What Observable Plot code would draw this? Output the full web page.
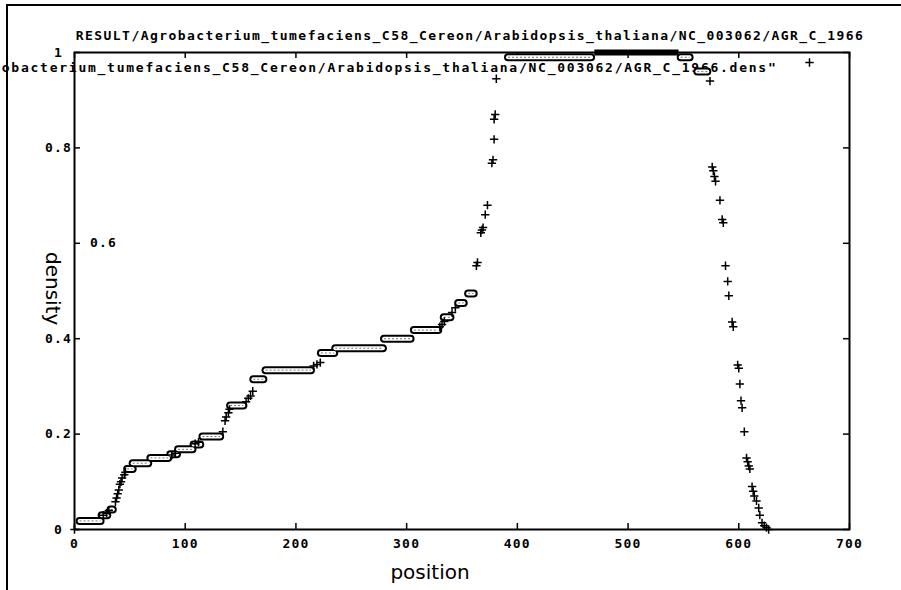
<!DOCTYPE html>
<html>
<head>
<meta charset="utf-8">
<script src="https://cdn.jsdelivr.net/npm/d3@7"></script>
<script src="https://cdn.jsdelivr.net/npm/@observablehq/plot@0.6"></script>
<style>
  html, body { margin: 0; padding: 0; background: white; overflow: hidden; }
  #wrap { position: relative; width: 901px; height: 590px; }
  #border { position: absolute; left: 6px; top: 4px; width: 895px; height: 586px;
            border-left: 2px solid black; border-top: 2px solid black; pointer-events: none; }
  g[aria-description="title"] text { letter-spacing: 1.45px; }
  g[aria-description="legend"] text { letter-spacing: 1.75px; }
  g[aria-description="tick-label"] text { letter-spacing: 1.2px; }
</style>
</head>
<body>
<div id="wrap"><div id="border"></div></div>
<script>
const titleText = "RESULT/Agrobacterium_tumefaciens_C58_Cereon/Arabidopsis_thaliana/NC_003062/AGR_C_1966";
const legendText = "\"" + titleText + ".dens\"";
const xLabel = "position";
const yLabel = "density";

const xTicks = [0, 100, 200, 300, 400, 500, 600, 700];
const yTicks = [0, 0.2, 0.4, 0.6, 0.8, 1];
const yTickLabels = ["0", "0.2", "0.4", "0.6", "0.8", "1"];

// horizontal runs of points (plateaus)
const stepX1 = [5, 25, 33, 48, 53, 69, 87, 94, 108, 116, 141, 162, 173, 223, 236, 280, 307, 334, 347, 356, 392, 548, 563];
const stepX2 = [24, 30, 35, 53, 67, 85, 93, 107, 114, 132, 153, 171, 214, 235, 279, 304, 329, 340, 352, 361, 467, 556, 572];
const stepY  = [0.018, 0.03, 0.042, 0.127, 0.139, 0.15, 0.158, 0.168, 0.178, 0.195, 0.26, 0.315, 0.334, 0.37, 0.38, 0.40, 0.418, 0.445, 0.475, 0.495, 0.99, 0.99, 0.96];

// dense run at full density
const peakX1 = [470];
const peakX2 = [546];
const peakY  = [1.0];

// isolated points
const pointX = [0, 26, 29, 31, 37, 38, 39, 40, 41, 42, 43, 45, 46, 88, 91, 109, 112, 134, 136, 137, 139, 140,
  155, 157, 159, 161, 216, 219, 222, 330, 332, 334, 341, 344, 363, 364, 367, 368, 369, 371, 373, 377, 378, 379,
  379, 380, 381, 574, 576, 577, 578, 579, 583, 585, 586, 588, 590, 591, 594, 595, 599, 600, 601, 602, 603, 605,
  607, 608, 609, 610, 612, 613, 614, 616, 618, 619, 621, 623, 625, 627];
const pointY = [0, 0.03, 0.034, 0.04, 0.058, 0.066, 0.075, 0.083, 0.095, 0.1, 0.108, 0.115, 0.12, 0.156, 0.16,
  0.18, 0.183, 0.205, 0.228, 0.236, 0.245, 0.252, 0.268, 0.275, 0.28, 0.29, 0.343, 0.346, 0.35, 0.425, 0.43,
  0.436, 0.455, 0.465, 0.553, 0.56, 0.622, 0.628, 0.633, 0.66, 0.68, 0.768, 0.775, 0.818, 0.86, 0.87, 0.945,
  0.94, 0.76, 0.752, 0.74, 0.73, 0.69, 0.65, 0.643, 0.553, 0.52, 0.49, 0.435, 0.425, 0.345, 0.338, 0.305, 0.27,
  0.255, 0.205, 0.15, 0.142, 0.133, 0.127, 0.09, 0.08, 0.07, 0.06, 0.045, 0.03, 0.014, 0.008, 0.004, 0];

const steps = stepX1.map((x1, i) => ({x1, x2: stepX2[i], y: stepY[i]}));
const peaks = peakX1.map((x1, i) => ({x1, x2: peakX2[i], y: peakY[i]}));
const points = pointX.map((x, i) => ({x, y: pointY[i]}));
const yt = yTicks.map((v, i) => ({v, label: yTickLabels[i]}));

const W = 901, H = 590, mL = 74, mR = 52, mT = 52, mB = 61;
const fw = W - mL - mR, fh = H - mT - mB;
const mono = {fontFamily: "DejaVu Sans Mono", fontWeight: "bold", fontSize: 13};

const chart = Plot.plot({
  width: W, height: H,
  marginLeft: mL, marginRight: mR, marginTop: mT, marginBottom: mB,
  style: {background: "white", color: "black", overflow: "hidden"},
  x: {domain: [0, 700], axis: null},
  y: {domain: [0, 1], axis: null},
  marks: [
    // inward ticks
    Plot.tickX(xTicks, {x: d => d, insetTop: fh - 6, stroke: "black", strokeWidth: 1.5}),
    Plot.tickX(xTicks, {x: d => d, insetBottom: fh - 6, stroke: "black", strokeWidth: 1.5}),
    Plot.tickY(yTicks, {y: d => d, insetRight: fw - 6, stroke: "black", strokeWidth: 1.5}),
    Plot.tickY(yTicks, {y: d => d, insetLeft: fw - 6, stroke: "black", strokeWidth: 1.5}),
    Plot.frame({stroke: "black", strokeWidth: 2}),
    // tick labels
    Plot.text(xTicks, {x: d => d, frameAnchor: "bottom", dy: 18, text: d => String(d), ...mono, ariaDescription: "tick-label"}),
    Plot.text(yt.filter(d => d.v !== 0.6), {y: "v", text: "label", frameAnchor: "left", dx: -16, textAnchor: "middle", ...mono, ariaDescription: "tick-label"}),
    Plot.text(yt.filter(d => d.v === 0.6), {y: "v", text: "label", frameAnchor: "left", dx: 29, textAnchor: "middle", ...mono, ariaDescription: "tick-label"}),
    // title, legend, axis labels
    Plot.text([titleText], {text: d => d, frameAnchor: "top", dx: 8, dy: -22, ...mono, ariaDescription: "title"}),
    Plot.text([legendText], {text: d => d, frameAnchor: "top-right", dx: -72, dy: 10, textAnchor: "end", ...mono, ariaDescription: "legend"}),
    Plot.dot([0], {frameAnchor: "top-right", dx: -40, dy: 10, symbol: "plus", r: 2.8, stroke: "black", strokeWidth: 1.5}),
    Plot.text([xLabel], {text: d => d, frameAnchor: "bottom", dx: -32, dy: 49, fontFamily: "DejaVu Sans", fontSize: 20}),
    Plot.text([yLabel], {text: d => d, frameAnchor: "left", dx: -22, dy: -39, rotate: 90, fontFamily: "DejaVu Sans", fontSize: 20}),
    // data: plateaus drawn as dense runs of points
    Plot.ruleY(steps, {x1: "x1", x2: "x2", y: "y", stroke: "black", strokeWidth: 8, strokeLinecap: "round"}),
    Plot.ruleY(steps, {x1: "x1", x2: "x2", y: "y", stroke: "white", strokeWidth: 4, strokeLinecap: "round"}),
    Plot.ruleY(steps, {x1: "x1", x2: "x2", y: "y", stroke: "#777", strokeWidth: 1, strokeDasharray: "2,2"}),
    Plot.ruleY(peaks, {x1: "x1", x2: "x2", y: "y", stroke: "black", strokeWidth: 6}),
    Plot.dot(points, {x: "x", y: "y", symbol: "plus", r: 2.8, stroke: "black", strokeWidth: 1.5})
  ]
});
document.getElementById("wrap").prepend(chart);
</script>
</body>
</html>
